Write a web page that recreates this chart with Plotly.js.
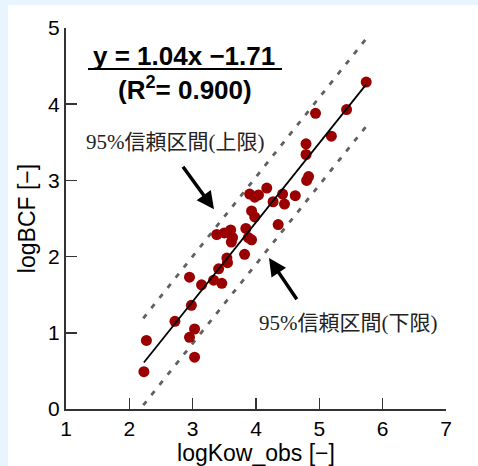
<!DOCTYPE html>
<html>
<head>
<meta charset="utf-8">
<script src="https://cdn.plot.ly/plotly-3.0.1.min.js"></script>
<style>
html,body{margin:0;padding:0;background:#e8f4fe;}
#chart{width:478px;height:466px;}
</style>
</head>
<body>
<div id="chart"></div>
<script>
// observed data points (logKow_obs, logBCF)
const logKow = [2.23, 2.27, 2.72, 2.95, 2.98, 2.95, 3.03, 3.03, 3.14, 3.33, 3.41, 3.46, 3.38, 3.50, 3.60, 3.63, 3.61, 3.54, 3.55, 3.82, 3.84, 3.88, 3.93, 3.93, 3.98, 3.90, 3.98, 4.04, 4.17, 4.27, 4.42, 4.45, 4.35, 4.62, 4.79, 4.79, 4.80, 4.83, 4.94, 5.19, 5.43, 5.74];
const logBCF = [0.49, 0.90, 1.15, 1.73, 1.36, 0.94, 1.05, 0.68, 1.63, 1.69, 1.84, 1.65, 2.29, 2.31, 2.35, 2.25, 2.19, 1.98, 1.92, 2.03, 2.37, 2.25, 2.22, 2.60, 2.52, 2.82, 2.78, 2.81, 2.90, 2.72, 2.82, 2.69, 2.42, 2.80, 3.48, 3.34, 3.00, 3.05, 3.88, 3.58, 3.93, 4.29];

// regression line and 95% band end points
const fitX = [2.23, 5.74];
const fitY = [0.61, 4.26];
const upperX = [2.22, 5.75];
const upperY = [1.19, 4.87];
const lowerX = [2.22, 5.75];
const lowerY = [0.05, 3.72];

// tick values
const xTicks = [1, 2, 3, 4, 5, 6, 7];
const yTicks = [0, 1, 2, 3, 4, 5];

const eqText = 'y = 1.04x \u22121.71';
const r2Text = '(R<sup>2</sup>= 0.900)';
const upperLabel = '95%信頼区間(上限)';
const lowerLabel = '95%信頼区間(下限)';

const sans = '"Liberation Sans", Arial, sans-serif';
const serif = '"Liberation Serif", "DejaVu Serif", "Noto Sans CJK JP", serif';

const traces = [
  {x: upperX, y: upperY, mode: 'lines', line: {color: '#606060', width: 2.8, dash: '5px,8px'}, hoverinfo: 'skip'},
  {x: lowerX, y: lowerY, mode: 'lines', line: {color: '#606060', width: 2.8, dash: '5px,8px'}, hoverinfo: 'skip'},
  {x: logKow, y: logBCF, mode: 'markers', marker: {color: '#9b0000', size: 11}},
  {x: fitX, y: fitY, mode: 'lines', line: {color: '#000000', width: 1.8}}
];

const layout = {
  width: 478, height: 466,
  margin: {l: 66, r: 32, t: 28, b: 57},
  paper_bgcolor: '#e8f4fe',
  plot_bgcolor: 'rgba(0,0,0,0)',
  showlegend: false,
  font: {family: sans, color: '#000'},
  xaxis: {
    range: [1, 7], tickvals: xTicks, ticks: 'inside', ticklen: 11, tickwidth: 1.5, tickcolor: '#333',
    showline: true, linecolor: '#333', linewidth: 2, showgrid: false, zeroline: false,
    tickfont: {size: 21, family: sans},
    title: {text: 'logKow_obs [\u2212]', font: {size: 23, family: sans}, standoff: 4}
  },
  yaxis: {
    range: [0, 5], tickvals: yTicks, ticks: 'inside', ticklen: 11, tickwidth: 1.5, tickcolor: '#333',
    showline: true, linecolor: '#333', linewidth: 2, showgrid: false, zeroline: false,
    tickfont: {size: 21, family: sans},
    title: {text: 'logBCF [\u2212]', font: {size: 23, family: sans}, standoff: 6}
  },
  shapes: [
    {type: 'rect', xref: 'paper', yref: 'paper', x0: -0.1526, x1: 1.1, y0: -0.2, y1: 1.0604,
     fillcolor: '#ffffff', line: {width: 0}, layer: 'below'},
    {type: 'line', xref: 'x', yref: 'y', x0: 1.347, x1: 4.41, y0: 4.462, y1: 4.462,
     line: {color: '#000', width: 2}}
  ],
  annotations: [
    {x: 2.87, y: 4.63, xref: 'x', yref: 'y', text: eqText, showarrow: false,
     font: {size: 26, family: sans, color: '#000', weight: 'bold'}},
    {x: 2.88, y: 4.21, xref: 'x', yref: 'y', text: r2Text, showarrow: false,
     font: {size: 26, family: sans, color: '#000', weight: 'bold'}},
    {x: 2.72, y: 3.50, xref: 'x', yref: 'y', text: upperLabel, showarrow: false,
     font: {size: 21, family: serif, color: '#222'}},
    {x: 5.45, y: 1.13, xref: 'x', yref: 'y', text: lowerLabel, showarrow: false,
     font: {size: 21, family: serif, color: '#222'}},
    {x: 3.337, y: 2.62, ax: 2.83, ay: 3.20, xref: 'x', yref: 'y', axref: 'x', ayref: 'y',
     text: '', showarrow: true, arrowhead: 2, arrowsize: 1, arrowwidth: 3.5, arrowcolor: '#000'},
    {x: 4.205, y: 1.98, ax: 4.66, ay: 1.42, xref: 'x', yref: 'y', axref: 'x', ayref: 'y',
     text: '', showarrow: true, arrowhead: 2, arrowsize: 1, arrowwidth: 3.5, arrowcolor: '#000'}
  ]
};

Plotly.newPlot('chart', traces, layout, {displayModeBar: false, staticPlot: true});
</script>
</body>
</html>
